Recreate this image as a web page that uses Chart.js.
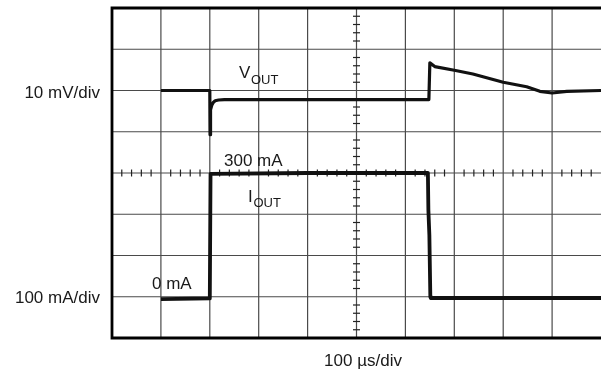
<!DOCTYPE html>
<html>
<head>
<meta charset="utf-8">
<script src="https://cdn.jsdelivr.net/npm/chart.js@4"></script>
<style>
  html, body { margin: 0; padding: 0; background: #fff; }
  canvas { display: block; }
</style>
</head>
<body>
<canvas id="scope" width="601" height="370"></canvas>
<script>
// time in microseconds, 100 us per division
const vTime = [100, 200, 200.5, 201, 202, 204, 207, 211, 218, 230, 648, 650, 660, 700, 738, 800, 848, 875, 900, 930, 1000];
// VOUT in mV, relative to the 10 mV/div marker
const vOut = [0, 0, -10.7, -6.2, -4.7, -3.6, -2.9, -2.5, -2.3, -2.2, -2.2, 6.7, 5.8, 4.9, 4.0, 2.0, 0.9, -0.2, -0.6, -0.2, 0];
const iTime = [100, 200, 201.5, 400, 646, 647, 649, 651, 652, 1000];
// IOUT in mA
const iOut = [-6, -4, 298, 300, 300, 210, 150, 0, -3, -3];

const timeTicks = [0, 100, 200, 300, 400, 500, 600, 700, 800, 900, 1000];
const voltTicks = [-60, -50, -40, -30, -20, -10, 0, 10, 20];
const timeMinor = 20;
const voltMinor = 2;

const toPoints = (xs, ys) => xs.map((x, i) => ({ x: x, y: ys[i] }));

const FONT = '"Liberation Sans", Arial, sans-serif';

const scopeGrid = {
  id: 'scopeGrid',
  beforeDatasetsDraw(chart) {
    const { ctx, chartArea: a, scales } = chart;
    const x = scales.x, yV = scales.yV;
    ctx.save();
    ctx.strokeStyle = '#4a4a4a';
    ctx.lineWidth = 1.2;
    timeTicks.slice(1, -1).forEach(t => {
      const px = x.getPixelForValue(t);
      ctx.beginPath(); ctx.moveTo(px, a.top); ctx.lineTo(px, a.bottom); ctx.stroke();
    });
    voltTicks.slice(1, -1).forEach(v => {
      const py = yV.getPixelForValue(v);
      ctx.beginPath(); ctx.moveTo(a.left, py); ctx.lineTo(a.right, py); ctx.stroke();
    });
    // minor ticks on the centre cross
    const cx = x.getPixelForValue(500);
    const cy = yV.getPixelForValue(-20);
    ctx.strokeStyle = '#222';
    ctx.lineWidth = 1.2;
    for (let t = 0; t <= 1000; t += timeMinor) {
      if (t % 100 === 0) continue;
      const px = x.getPixelForValue(t);
      ctx.beginPath(); ctx.moveTo(px, cy - 3.5); ctx.lineTo(px, cy + 3.5); ctx.stroke();
    }
    for (let v = -60; v <= 20; v += voltMinor) {
      if (v % 10 === 0) continue;
      const py = yV.getPixelForValue(v);
      ctx.beginPath(); ctx.moveTo(cx - 3.5, py); ctx.lineTo(cx + 3.5, py); ctx.stroke();
    }
    // frame (right side falls at the canvas edge)
    ctx.strokeStyle = '#000';
    ctx.lineWidth = 2.8;
    ctx.beginPath();
    ctx.moveTo(a.right + 2, a.top);
    ctx.lineTo(a.left, a.top);
    ctx.lineTo(a.left, a.bottom);
    ctx.lineTo(a.right + 2, a.bottom);
    ctx.stroke();
    ctx.restore();
  },
  afterDraw(chart) {
    const { ctx } = chart;
    ctx.save();
    ctx.fillStyle = '#1a1a1a';
    ctx.textBaseline = 'alphabetic';
    ctx.font = '17px ' + FONT;
    ctx.textAlign = 'right';
    ctx.fillText('10 mV/div', 100, 98);
    ctx.fillText('100 mA/div', 100, 303);
    ctx.textAlign = 'center';
    ctx.fillText('100 \u00b5s/div', 363, 366);
    ctx.textAlign = 'left';
    ctx.fillText('V', 239, 78);
    ctx.fillText('300 mA', 224, 166);
    ctx.fillText('I', 248, 202);
    ctx.fillText('0 mA', 152, 289);
    ctx.font = '13px ' + FONT;
    ctx.fillText('OUT', 251, 83.5);
    ctx.fillText('OUT', 253.5, 207);
    ctx.restore();
  }
};

new Chart(document.getElementById('scope'), {
  type: 'line',
  data: {
    datasets: [
      {
        label: 'VOUT',
        data: toPoints(vTime, vOut),
        yAxisID: 'yV',
        borderColor: '#111',
        borderWidth: 3.2,
        borderJoinStyle: 'round',
        pointRadius: 0,
        tension: 0
      },
      {
        label: 'IOUT',
        data: toPoints(iTime, iOut),
        yAxisID: 'yI',
        borderColor: '#111',
        borderWidth: 3.8,
        borderJoinStyle: 'round',
        pointRadius: 0,
        tension: 0
      }
    ]
  },
  options: {
    responsive: false,
    animation: false,
    layout: { padding: { left: 112, top: 8, right: 0, bottom: 32 } },
    plugins: { legend: { display: false }, tooltip: { enabled: false } },
    scales: {
      x: { type: 'linear', min: 0, max: 1000, display: false },
      yV: { type: 'linear', min: -60, max: 20, display: false },
      yI: { type: 'linear', min: -100, max: 700, display: false }
    }
  },
  plugins: [scopeGrid]
});
</script>
</body>
</html>
